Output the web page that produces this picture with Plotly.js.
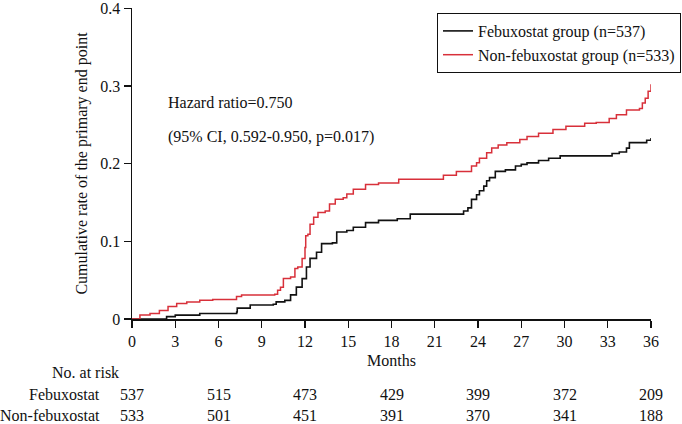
<!DOCTYPE html>
<html>
<head>
<meta charset="utf-8">
<script src="https://cdn.plot.ly/plotly-3.0.1.min.js"></script>
<style>html,body{margin:0;padding:0;background:#fff;}#chart{width:682px;height:424px;}</style>
</head>
<body>
<div id="chart"></div>
<script>
// Febuxostat group (step curve: month, cumulative rate)
const febuMonths = [0, 2.4, 3.0, 4.7, 7.26, 7.3, 8.2, 9.8, 10.0, 10.6, 11.0, 11.4, 11.8, 12.1, 12.35, 12.8, 13.15, 13.9, 14.2, 14.9, 15.35, 16.2, 17.1, 18.4, 19.3, 23.0, 23.3, 23.55, 23.9, 24.1, 24.4, 24.6, 24.8, 25.2, 25.9, 26.6, 27.0, 27.4, 28.2, 28.9, 29.7, 33.3, 33.8, 34.3, 34.5, 35.7, 36.0];
const febuRate   = [0, 0.003, 0.005, 0.007, 0.009, 0.014, 0.018, 0.019, 0.022, 0.024, 0.031, 0.041, 0.052, 0.067, 0.078, 0.086, 0.097, 0.098, 0.112, 0.114, 0.118, 0.124, 0.127, 0.129, 0.135, 0.139, 0.143, 0.154, 0.160, 0.165, 0.171, 0.178, 0.182, 0.190, 0.192, 0.197, 0.199, 0.201, 0.204, 0.207, 0.210, 0.213, 0.215, 0.220, 0.227, 0.230, 0.233];

// Non-febuxostat group
const nonMonths = [0, 0.55, 1.25, 1.9, 2.5, 3.1, 3.8, 4.7, 5.6, 7.25, 7.6, 9.9, 10.1, 10.3, 10.5, 11.0, 11.3, 11.5, 11.8, 12.0, 12.05, 12.2, 12.35, 12.6, 12.9, 13.4, 13.7, 14.1, 14.65, 14.9, 15.35, 16.2, 17.1, 18.5, 21.6, 22.5, 23.55, 23.9, 24.1, 24.6, 24.95, 25.4, 26.0, 26.9, 27.4, 28.2, 29.2, 30.1, 31.4, 32.2, 33.1, 33.6, 34.3, 35.2, 35.4, 35.6, 35.8, 36.0];
const nonRate   = [0, 0.005, 0.007, 0.011, 0.016, 0.020, 0.022, 0.024, 0.025, 0.029, 0.031, 0.032, 0.037, 0.041, 0.052, 0.054, 0.065, 0.067, 0.078, 0.092, 0.107, 0.109, 0.122, 0.131, 0.137, 0.139, 0.148, 0.154, 0.156, 0.161, 0.167, 0.173, 0.175, 0.180, 0.185, 0.190, 0.197, 0.201, 0.207, 0.214, 0.220, 0.224, 0.227, 0.231, 0.235, 0.239, 0.244, 0.248, 0.252, 0.253, 0.258, 0.263, 0.269, 0.271, 0.278, 0.284, 0.293, 0.302];

// Number at risk table
const riskMonths = [0, 6, 12, 18, 24, 30, 36];
const riskFebu = [537, 515, 473, 429, 399, 372, 209];
const riskNon  = [533, 501, 451, 391, 370, 341, 188];

const xTicks = [0, 3, 6, 9, 12, 15, 18, 21, 24, 27, 30, 33, 36];
const yTicks = [0, 0.1, 0.2, 0.3, 0.4];
const yTickText = ['0', '0.1', '0.2', '0.3', '0.4'];

const seriesNames = ['Febuxostat group (n=537)', 'Non-febuxostat group (n=533)'];
const rowLabels = ['Febuxostat', 'Non-febuxostat'];

const FONT = 'Liberation Serif, Times New Roman, serif';
const FS = 16;
const RED = '#d8303a';

const traces = [
  {x: febuMonths, y: febuRate, mode: 'lines', line: {shape: 'hv', color: '#111111', width: 1.6}, name: seriesNames[0]},
  {x: nonMonths, y: nonRate, mode: 'lines', line: {shape: 'hv', color: RED, width: 1.5}, name: seriesNames[1]}
];

const TOP = 8, BOT = 319;
const PW = 519, PH = BOT - TOP;
const px = v => (v - 132) / PW;
const py = v => (BOT - v) / PH;
const txt = (x, y, text, anchor, size) => ({xref: 'paper', yref: 'paper', x: x, y: y, xanchor: anchor, yanchor: 'middle', text: text, showarrow: false, font: {family: FONT, size: size, color: '#111'}});

const annotations = [
  txt(px(166), py(103), 'Hazard ratio=0.750', 'left', FS),
  txt(px(166), py(137), '(95% CI, 0.592-0.950, p=0.017)', 'left', FS),
  txt(px(121), py(372), 'No. at risk', 'right', FS),
  txt(px(102), py(394), rowLabels[0], 'right', FS),
  txt(px(102), py(415), rowLabels[1], 'right', FS)
];
riskMonths.forEach((m, i) => {
  annotations.push({xref: 'x', yref: 'paper', x: m, y: py(394), xanchor: 'center', yanchor: 'middle', text: String(riskFebu[i]), showarrow: false, font: {family: FONT, size: FS, color: '#111'}});
  annotations.push({xref: 'x', yref: 'paper', x: m, y: py(415), xanchor: 'center', yanchor: 'middle', text: String(riskNon[i]), showarrow: false, font: {family: FONT, size: FS, color: '#111'}});
});

const layout = {
  width: 682, height: 424,
  margin: {l: 132, r: 31, t: TOP, b: 424 - BOT, autoexpand: false},
  paper_bgcolor: '#fff', plot_bgcolor: '#fff',
  font: {family: FONT, size: FS, color: '#111'},
  showlegend: true,
  legend: {
    x: px(681), y: py(13), xanchor: 'right', yanchor: 'top',
    bordercolor: '#111', borderwidth: 1, bgcolor: '#fff',
    font: {family: FONT, size: FS, color: '#111'},
    itemwidth: 30, tracegroupgap: 0
  },
  xaxis: {
    range: [0, 36], tickvals: xTicks, ticks: 'outside', ticklen: 7, tickwidth: 1.3, tickcolor: '#111',
    showline: true, linecolor: '#111', linewidth: 1.5, showgrid: false, zeroline: false,
    ticklabeloverflow: 'allow',
    tickfont: {family: FONT, size: FS, color: '#111'},
    title: {text: 'Months', font: {family: FONT, size: FS, color: '#111'}, standoff: 6},
    fixedrange: true
  },
  yaxis: {
    range: [0, 0.4003], tickvals: yTicks, ticktext: yTickText, ticks: 'outside', ticklen: 7, tickwidth: 1.3, tickcolor: '#111',
    showline: true, linecolor: '#111', linewidth: 1.5, showgrid: false, zeroline: false,
    ticklabeloverflow: 'allow',
    tickfont: {family: FONT, size: FS, color: '#111'},
    title: {text: 'Cumulative rate of the primary end point', font: {family: FONT, size: FS, color: '#111'}, standoff: 8},
    fixedrange: true
  },
  annotations: annotations
};

Plotly.newPlot('chart', traces, layout, {displayModeBar: false, staticPlot: true});
</script>
</body>
</html>
